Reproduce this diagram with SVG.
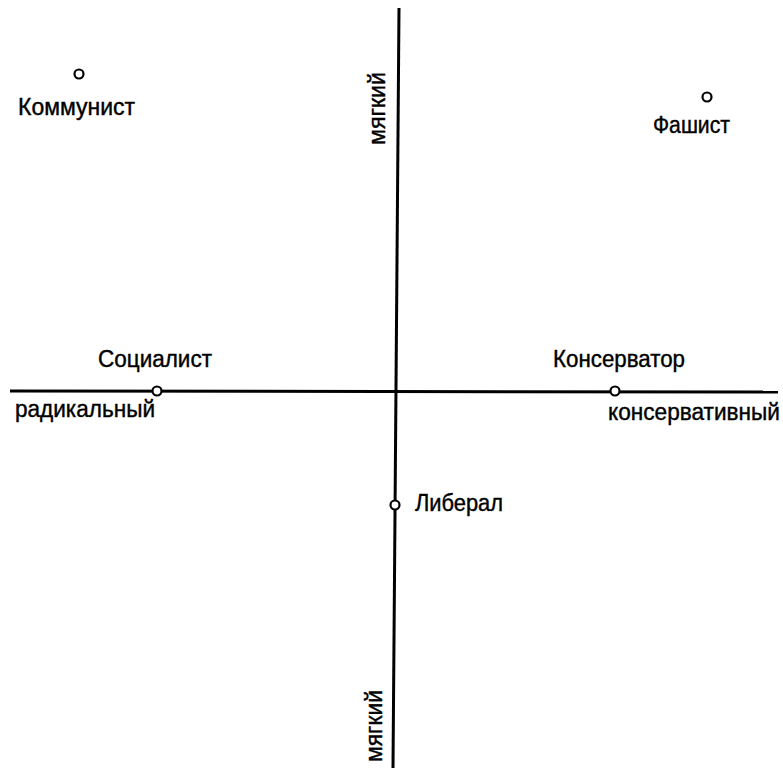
<svg xmlns="http://www.w3.org/2000/svg" width="783" height="768" viewBox="0 0 783 768">
<style>
.ax{stroke:#000;stroke-width:3;fill:none;stroke-linecap:butt}
.pt{fill:#fff;stroke:#000;stroke-width:2.2}
text{font-family:"Liberation Sans",Arial,sans-serif;font-size:23px;fill:#000;stroke:#000;stroke-width:0.4}
</style>
<rect width="783" height="768" fill="#fff"/>
<g id="connectors">
<line class="ax" x1="10" y1="391" x2="778" y2="392"/>
<line class="ax" x1="399" y1="8" x2="393" y2="768"/>
</g>
<g id="axis-labels">
<text x="0" y="0" transform="translate(385,145) rotate(-90)" textLength="73" lengthAdjust="spacingAndGlyphs">мягкий</text>
<text x="0" y="0" transform="translate(382,762) rotate(-90)" textLength="72" lengthAdjust="spacingAndGlyphs">мягкий</text>
<text x="15" y="417" textLength="140" lengthAdjust="spacingAndGlyphs">радикальный</text>
<text x="608" y="420" textLength="172" lengthAdjust="spacingAndGlyphs">консервативный</text>
</g>
<g id="node-communist">
<circle class="pt" cx="79" cy="74" r="4.5"/>
<text x="18" y="115" textLength="117" lengthAdjust="spacingAndGlyphs">Коммунист</text>
</g>
<g id="node-fascist">
<circle class="pt" cx="707" cy="97" r="4.5"/>
<text x="653" y="133" textLength="77" lengthAdjust="spacingAndGlyphs">Фашист</text>
</g>
<g id="node-socialist">
<circle class="pt" cx="157" cy="391" r="4.5"/>
<text x="98" y="367" textLength="114" lengthAdjust="spacingAndGlyphs">Социалист</text>
</g>
<g id="node-conservator">
<circle class="pt" cx="615" cy="391" r="4.5"/>
<text x="553" y="367" textLength="132" lengthAdjust="spacingAndGlyphs">Консерватор</text>
</g>
<g id="node-liberal">
<circle class="pt" cx="395" cy="505" r="4.5"/>
<text x="415" y="511" textLength="88" lengthAdjust="spacingAndGlyphs">Либерал</text>
</g>
</svg>
